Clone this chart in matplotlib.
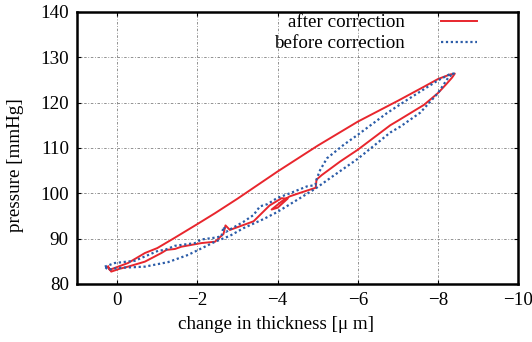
import matplotlib.pyplot as plt

plt.rcParams['font.family'] = ['Liberation Serif', 'DejaVu Serif']

# after correction: loading branch (bottom -> tip), then unloading branch (tip -> bottom)
after_x = [0.23, 0.19, -0.27, -0.69, -1.0, -1.44, -2.0, -2.44, -3.0, -4.0, -5.0, -6.0,
           -7.0, -7.65, -8.0, -8.3, -8.42,
           -8.35, -8.2, -8.0, -7.65, -7.0, -6.81, -6.0, -5.56, -5.1, -4.97, -4.95, -4.6,
           -4.3, -4.1, -3.85, -4.0, -4.25, -4.1, -3.8, -3.56, -3.4, -2.81, -2.7, -2.65,
           -2.44, -2.1, -1.85, -1.6, -1.44, -1.23, -1.1, -0.69, -0.27, -0.05, 0.15, 0.23]
after_y = [83.8, 83.1, 84.6, 86.8, 87.9, 90.2, 93.2, 95.6, 98.8, 104.8, 110.5, 115.8,
           120.4, 123.5, 125.2, 126.2, 126.4,
           125.5, 124.0, 122.1, 119.5, 116.0, 115.0, 109.6, 107.0, 104.0, 103.0, 101.2, 100.2,
           99.3, 98.2, 96.4, 96.8, 98.8, 98.9, 97.3, 95.2, 93.8, 91.9, 92.9, 91.0,
           89.3, 89.0, 88.6, 88.2, 87.7, 87.5, 86.8, 84.9, 83.8, 83.3, 82.7, 83.8]

# before correction
before_x = [0.31, 0.06, -0.44, -1.02, -1.19, -1.44, -1.94, -2.1, -2.44, -2.6, -2.65, -2.72,
            -2.81, -3.15, -3.4, -3.56, -3.75, -3.98, -4.31, -4.73, -4.94, -4.98, -5.06,
            -5.23, -5.65, -6.0, -6.73, -7.23, -8.0, -8.3, -8.4,
            -8.27, -8.0, -7.56, -7.06, -6.81, -6.0, -5.4, -4.94, -4.5, -3.98, -3.65,
            -3.15, -2.81, -2.44, -1.77, -1.27, -0.69, 0.0, 0.23, 0.31]
before_y = [83.8, 84.6, 85.1, 87.3, 87.5, 88.4, 89.0, 89.8, 90.2, 90.5, 92.6, 91.5,
            92.0, 93.7, 95.2, 97.1, 97.6, 98.9, 100.0, 101.5, 101.8, 103.3, 105.1,
            107.7, 110.7, 112.9, 117.7, 120.6, 124.9, 126.3, 126.4,
            125.7, 122.1, 117.8, 114.7, 113.4, 107.6, 103.9, 101.0, 98.6, 95.8, 94.3,
            92.3, 90.6, 89.3, 86.4, 84.8, 83.8, 83.5, 83.1, 83.8]

fs = 13.7
fig = plt.figure(figsize=(5.32, 3.42), dpi=100)
ax = fig.add_axes([0.145, 0.17, 0.829, 0.795])

ax.plot(after_x, after_y, color='#e8262d', lw=1.4, label='after correction')
ax.plot(before_x, before_y, color='#2b5ca8', lw=1.6, linestyle=(0, (1, 1.2)),
        label='before correction')

ax.set_xlim(1, -10)
ax.set_ylim(80, 140)
ax.set_xticks([0, -2, -4, -6, -8, -10])
ax.set_yticks(range(80, 141, 10))
ax.set_xlabel('change in thickness [\u03bc m]', fontsize=fs)
ax.set_ylabel('pressure [mmHg]', fontsize=fs)
ax.xaxis.set_label_coords(0.451, -0.118)
ax.yaxis.set_label_coords(-0.12, 0.435)
ax.tick_params(direction='in', top=True, right=True, labelsize=fs, length=3, pad=6)
ax.grid(True, color='gray', lw=0.6, linestyle=(0, (3, 2, 1, 2)))
for s in ax.spines.values():
    s.set_linewidth(1.8)

leg = ax.legend(loc='upper right', bbox_to_anchor=(0.924, 1.02), borderaxespad=0,
                frameon=False, fontsize=fs, markerfirst=False,
                handlelength=1.9, handletextpad=1.9, labelspacing=0.18)
for t in leg.get_texts():
    t.set_ha('right')

plt.savefig('out.png', dpi=100)
